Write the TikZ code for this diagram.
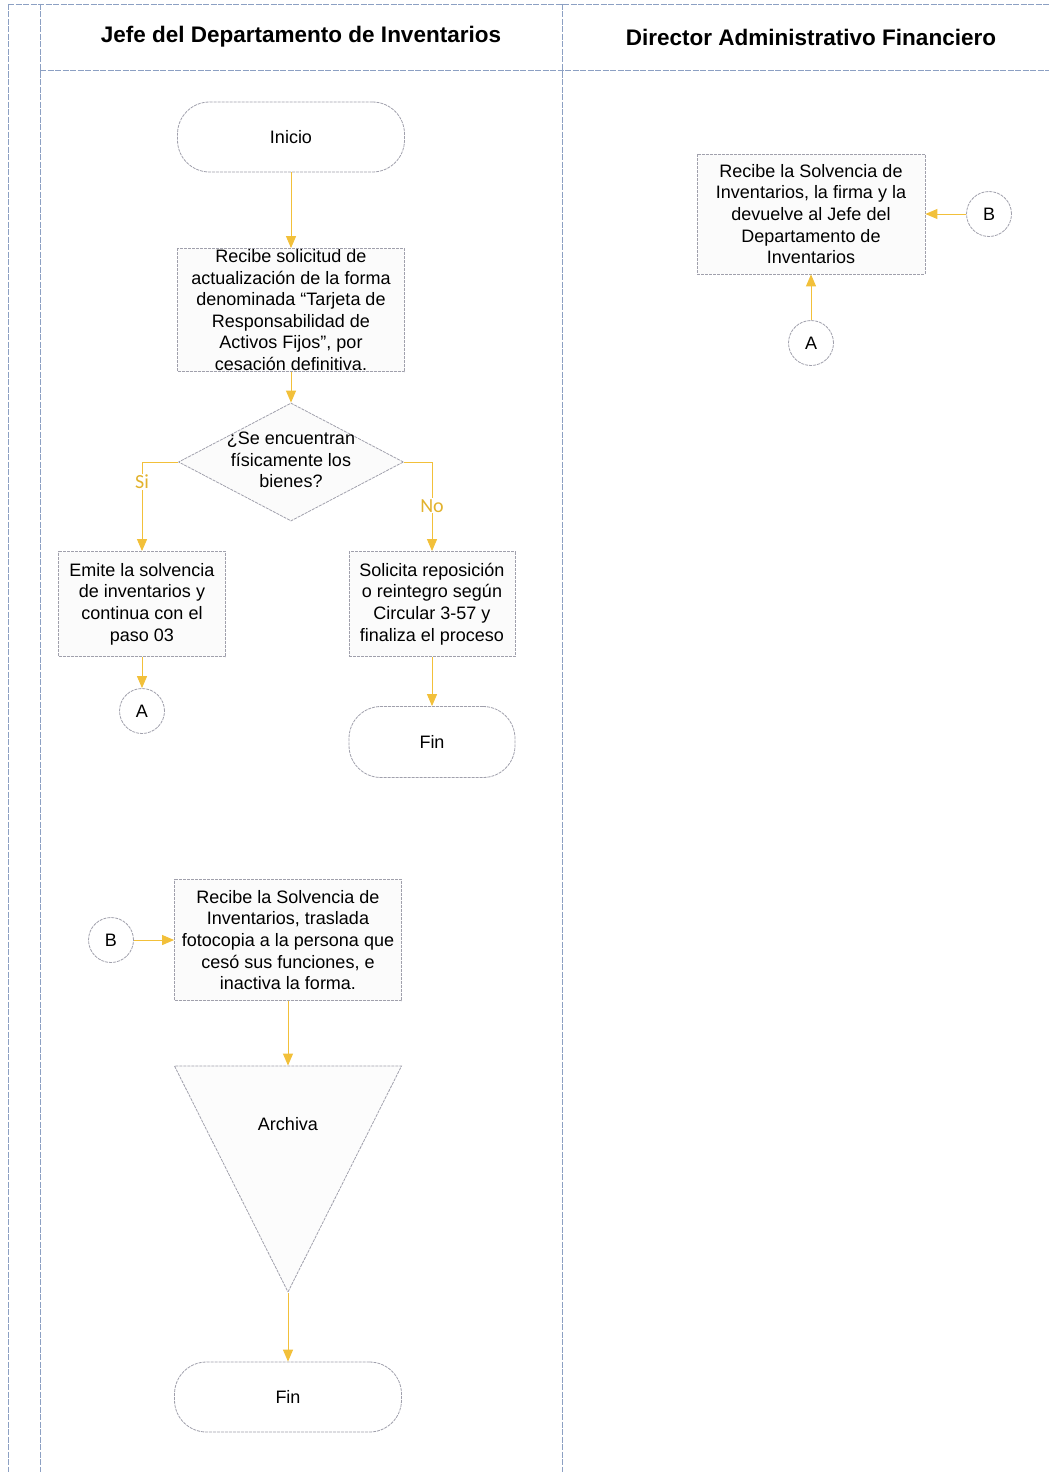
\documentclass[tikz,border=0pt]{standalone}
\usepackage{fontspec}
\setmainfont{Liberation Sans}
\newfontfamily\etiq{Carlito}
\usetikzlibrary{shapes.geometric,arrows.meta}

\definecolor{carrilcol}{RGB}{140,160,195}
\definecolor{borde}{RGB}{160,160,172}
\definecolor{flechacol}{RGB}{242,192,58}
\definecolor{sinocol}{RGB}{226,178,45}

\begin{document}
\begin{tikzpicture}[x=1pt,y=-1pt,
    txt/.style={font=\fontsize{18}{21.6}\selectfont, align=center},
    titulo/.style={font=\fontsize{22.5}{26}\selectfont\bfseries},
    carril/.style={draw=carrilcol, line width=0.8, dash pattern=on 6pt off 1.5pt},
    linea/.style={draw=borde, line width=0.8, dash pattern=on 3pt off 1pt},
    caja/.style={txt, linea, fill=gray!3, minimum width=227, inner sep=0},
    terminal/.style={txt, linea, fill=white, rounded corners=32, minimum width=227, minimum height=70},
    decision/.style={diamond, linea, fill=gray!3, minimum width=225, minimum height=118, inner sep=0},
    triang/.style={isosceles triangle, isosceles triangle stretches, shape border rotate=-90, linea, fill=gray!2, minimum width=227, minimum height=226, inner sep=0},
    conector/.style={txt, circle, linea, fill=white, minimum size=45, inner sep=0},
    flecha/.style={draw=flechacol, line width=1, -{Triangle[length=12pt,width=10pt]}},
    sinoTxt/.style={font=\etiq\fontsize{20}{22}\selectfont, text=sinocol, fill=white, inner sep=1}]
    \useasboundingbox (0,0) rectangle (1049,1472);
    % Carriles
    \draw[carril] (8,4) -- (1049,4);
    \draw[carril] (8,4) -- (8,1472);
    \draw[carril] (40,4) -- (40,1472);
    \draw[carril] (562,4) -- (562,1472);
    \draw[carril] (40,70) -- (1049,70);
    % Encabezados
    \node[titulo] (tJefe) at (301,37) {Jefe del Departamento de Inventarios};
    \node[titulo] (tDirector) at (811,37) {Director Administrativo Financiero};
    % Jefe del Departamento de Inventarios
    \node[terminal] (inicio) at (291,137) {Inicio};
    \node[caja, minimum height=123] (recibe) at (291,310) {Recibe solicitud de\\actualización de la forma\\denominada “Tarjeta de\\Responsabilidad de\\Activos Fijos”, por\\cesación definitiva.};
    \node[decision] (dec) at (291,462) {};
    \node[txt] (decTxt) at (291,460) {¿Se encuentran\\físicamente los\\bienes?};
    \node[caja, minimum width=167, minimum height=105] (emite) at (142,604) {Emite la solvencia\\de inventarios y\\continua con el\\paso 03};
    \node[caja, minimum width=166, minimum height=105] (solicita) at (432,604) {Solicita reposición\\o reintegro según\\Circular 3-57 y\\finaliza el proceso};
    \node[conector] (conA1) at (142,711) {A};
    \node[terminal, minimum width=166, minimum height=71] (fin1) at (432,742) {Fin};
    \node[conector] (conB2) at (111,940) {B};
    \node[caja, minimum height=121] (traslada) at (288,940) {Recibe la Solvencia de\\Inventarios, traslada\\fotocopia a la persona que\\cesó sus funciones, e\\inactiva la forma.};
    \node[triang, anchor=apex] (archiva) at (288,1293) {};
    \node[txt] (archTxt) at (288,1124) {Archiva};
    \node[terminal] (fin2) at (288,1397) {Fin};
    % Director Administrativo Financiero
    \node[caja, minimum width=228, minimum height=120] (firma) at (811,214) {Recibe la Solvencia de\\Inventarios, la firma y la\\devuelve al Jefe del\\Departamento de\\Inventarios};
    \node[conector] (conB1) at (989,214) {B};
    \node[conector] (conA2) at (811,343) {A};
    % Flechas
    \draw[flecha] (inicio) -- (recibe);
    \draw[flecha] (recibe) -- (dec);
    \draw[flecha] (dec.west) -| node[sinoTxt, pos=0.61] {Si} (emite.north);
    \draw[flecha] (dec.east) -| node[sinoTxt, pos=0.745] {No} (solicita.north);
    \draw[flecha] (emite) -- (conA1);
    \draw[flecha] (solicita) -- (fin1);
    \draw[flecha] (conA2) -- (firma);
    \draw[flecha] (conB1) -- (firma);
    \draw[flecha] (conB2) -- (traslada);
    \draw[flecha] (traslada) -- (archiva.lower side);
    \draw[flecha] (archiva.apex) -- (fin2);
\end{tikzpicture}
\end{document}
